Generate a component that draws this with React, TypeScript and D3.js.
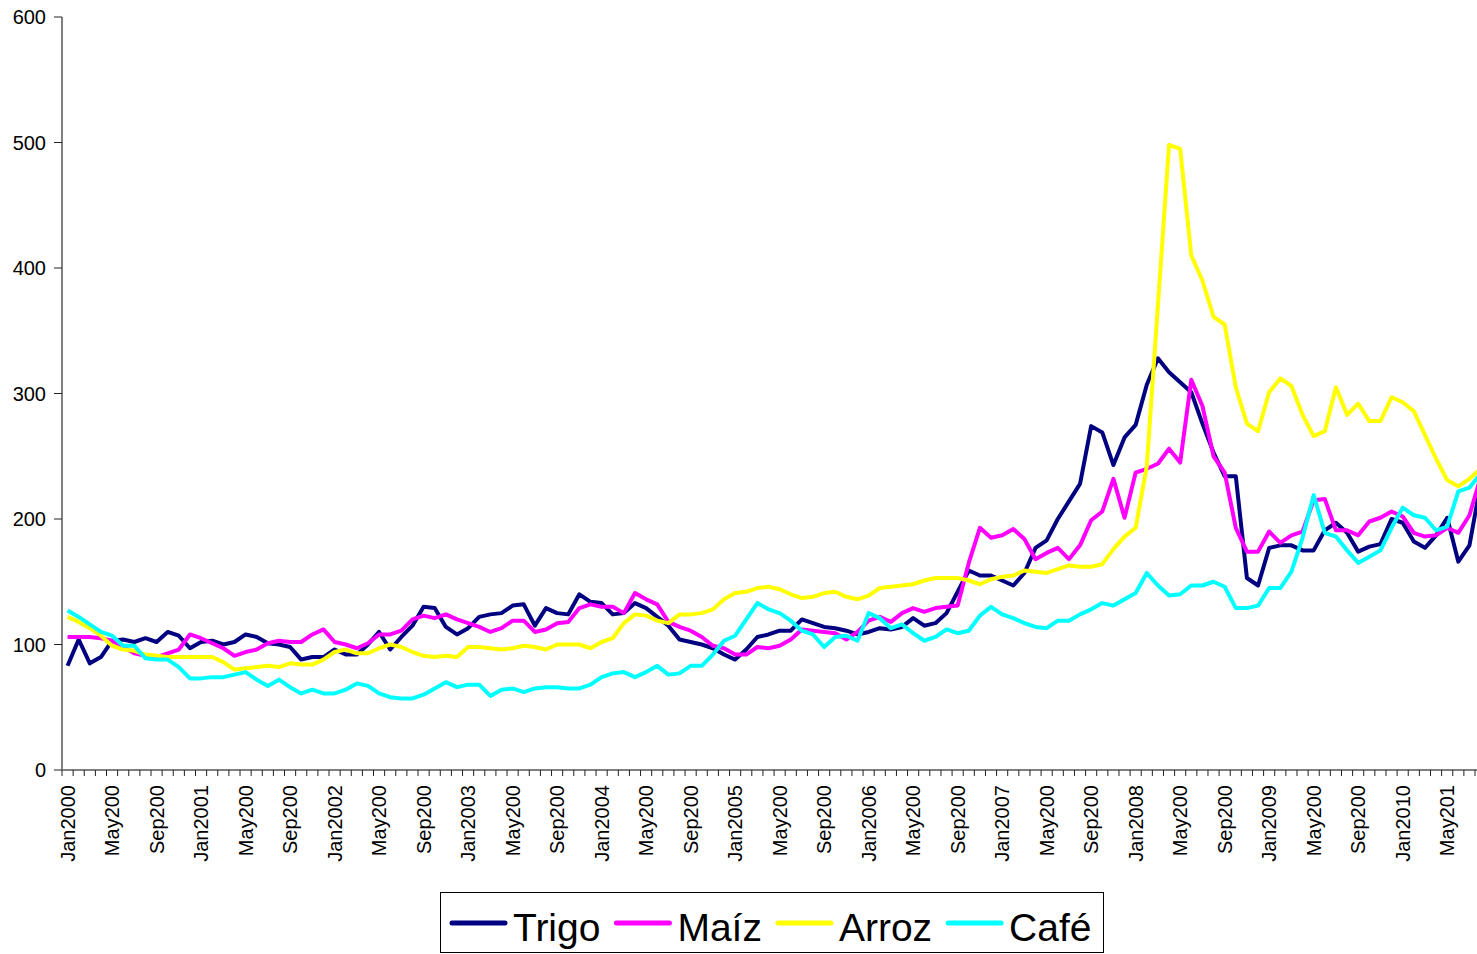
import React from "react";
import * as d3 from "d3";

const seriesNames = ["Trigo", "Maíz", "Arroz", "Café"];
const seriesColors = ["#000080", "#FF00FF", "#FFFF00", "#00FFFF"];

// Monthly index values, Jan 2000 .. Aug 2010
const trigo = [
  83, 104, 85, 90, 103, 104, 102, 105, 102, 110, 107, 97, 102, 103, 100, 102,
  108, 106, 101, 100, 98, 88, 90, 90, 96, 92, 92, 100, 110, 96, 106, 115,
  130, 129, 114, 108, 113, 122, 124, 125, 131, 132, 115, 129, 125, 124, 140, 134,
  133, 124, 125, 133, 129, 122, 115, 104, 102, 100, 97, 92, 88, 96, 106, 108,
  111, 111, 120, 117, 114, 113, 111, 108, 110, 113, 112, 114, 121, 115, 117, 125,
  142, 159, 155, 155, 151, 147, 157, 177, 183, 200, 214, 228, 274, 269, 243, 265,
  275, 307, 328, 317, 309, 301, 276, 253, 234, 234, 153, 147, 177, 179, 179, 175,
  175, 191, 197, 189, 174, 178, 180, 200, 197, 182, 177, 187, 201, 166, 179, 228,
];
const maiz = [
  106, 106, 106, 105, 103, 98, 93, 91, 90, 93, 96, 108, 105, 101, 97, 91,
  94, 96, 101, 103, 102, 102, 108, 112, 102, 100, 97, 101, 108, 108, 111, 120,
  123, 121, 124, 120, 117, 114, 110, 113, 119, 119, 110, 112, 117, 118, 129, 132,
  130, 130, 125, 141, 136, 132, 118, 114, 111, 106, 99, 97, 92, 92, 98, 97,
  99, 104, 112, 111, 110, 109, 104, 110, 119, 122, 118, 125, 129, 126, 129, 130,
  131, 165, 193, 185, 187, 192, 184, 168, 173, 177, 168, 179, 199, 206, 232, 201,
  237, 240, 244, 256, 245, 311, 290, 250, 237, 193, 174, 174, 190, 181, 187, 190,
  215, 216, 191, 191, 187, 198, 201, 206, 202, 189, 186, 187, 193, 189, 203, 233,
];
const arroz = [
  122, 118, 113, 107, 99, 96, 95, 92, 91, 90, 90, 90, 90, 90, 86, 80,
  81, 82, 83, 82, 85, 84, 84, 88, 94, 96, 93, 93, 97, 100, 98, 94,
  91, 90, 91, 90, 98, 98, 97, 96, 97, 99, 98, 96, 100, 100, 100, 97,
  102, 105, 117, 124, 123, 119, 117, 124, 124, 125, 128, 136, 141, 142, 145, 146,
  144, 140, 137, 138, 141, 142, 138, 136, 139, 145, 146, 147, 148, 151, 153, 153,
  153, 151, 148, 152, 154, 155, 159, 158, 157, 160, 163, 162, 162, 164, 176, 186,
  193, 242, 370, 498, 495, 410, 390, 361, 355, 305, 276, 270, 301, 312, 306, 283,
  266, 270, 305, 283, 292, 278, 278, 297, 293, 286, 267, 248, 231, 226, 232, 240,
];
const cafe = [
  127, 122, 116, 110, 107, 99, 99, 89, 88, 88, 82, 73, 73, 74, 74, 76,
  78, 72, 67, 72, 66, 61, 64, 61, 61, 64, 69, 67, 61, 58, 57, 57,
  60, 65, 70, 66, 68, 68, 59, 64, 65, 62, 65, 66, 66, 65, 65, 68,
  74, 77, 78, 74, 78, 83, 76, 77, 83, 83, 92, 103, 107, 120, 133, 128,
  125, 119, 111, 108, 98, 106, 107, 103, 125, 121, 113, 116, 109, 103, 106, 112,
  109, 111, 123, 130, 124, 121, 117, 114, 113, 119, 119, 124, 128, 133, 131, 136,
  141, 157, 147, 139, 140, 147, 147, 150, 146, 129, 129, 131, 145, 145, 158, 185,
  219, 189, 186, 175, 165, 170, 175, 193, 209, 203, 201, 191, 194, 222, 225, 236,
];

const tickLabels = [
  "Jan2000", "May200", "Sep200", "Jan2001", "May200", "Sep200",
  "Jan2002", "May200", "Sep200", "Jan2003", "May200", "Sep200",
  "Jan2004", "May200", "Sep200", "Jan2005", "May200", "Sep200",
  "Jan2006", "May200", "Sep200", "Jan2007", "May200", "Sep200",
  "Jan2008", "May200", "Sep200", "Jan2009", "May200", "Sep200",
  "Jan2010", "May201",
];
const yTicks = [0, 100, 200, 300, 400, 500, 600];

const FONT = "'Liberation Sans', Arial, Helvetica, sans-serif";

export default function App() {
  const W = 1477;
  const H = 954;
  const left = 62;
  const step = 11.126;
  const n = trigo.length;
  const x = d3
    .scaleBand<number>()
    .domain(d3.range(n))
    .range([left, left + n * step])
    .paddingInner(0)
    .paddingOuter(0);
  const y = d3.scaleLinear().domain([0, 600]).range([770, 17]);
  const cx = (i: number) => (x(i) as number) + x.bandwidth() / 2;
  const line = d3
    .line<number>()
    .x((_, i) => cx(i))
    .y((v) => y(v));

  const allSeries = [trigo, maiz, arroz, cafe];

  // legend layout
  const measure = (t: string) => {
    const c = document.createElement("canvas").getContext("2d");
    if (!c) return t.length * 20;
    c.font = `39px ${FONT}`;
    return c.measureText(t).width;
  };
  let cursor = 452;
  const legendItems = seriesNames.map((name, k) => {
    const item = { name, color: seriesColors[k], x0: cursor, tx: cursor + 61 };
    cursor = item.tx + measure(name) + 16;
    return item;
  });

  const axisColor = "#808080";
  const boundaries = d3.range(n + 1).map((i) => left + i * step);

  return (
    <svg
      width={W}
      height={H}
      style={{ position: "absolute", left: 0, top: 0, background: "#fff" }}
    >
      <rect x={0} y={0} width={W} height={H} fill="#fff" />
      {/* y axis */}
      <line x1={left} x2={left} y1={y(600)} y2={y(0)} stroke={axisColor} strokeWidth={2} />
      {yTicks.map((t) => (
        <g key={t}>
          <line x1={left - 8} x2={left} y1={y(t)} y2={y(t)} stroke="#222" strokeWidth={1} />
          <text
            x={46}
            y={y(t)}
            dy="0.35em"
            textAnchor="end"
            fontFamily={FONT}
            fontSize={20}
            fill="#000"
          >
            {t}
          </text>
        </g>
      ))}
      {/* x axis */}
      <line x1={left} x2={W} y1={y(0)} y2={y(0)} stroke={axisColor} strokeWidth={2} />
      {boundaries.map((bx, i) => (
        <line key={i} x1={bx} x2={bx} y1={y(0)} y2={y(0) + 6} stroke="#222" strokeWidth={1} />
      ))}
      {tickLabels.map((lab, k) => (
        <text
          key={k}
          transform={`translate(${cx(k * 4)},785) rotate(-90)`}
          dy="0.35em"
          textAnchor="end"
          fontFamily={FONT}
          fontSize={20}
          fill="#000"
        >
          {lab}
        </text>
      ))}
      {/* series */}
      <g>
        {allSeries.map((s, k) => (
          <path
            key={k}
            d={line(s) || ""}
            fill="none"
            stroke={seriesColors[k]}
            strokeWidth={4}
            strokeLinejoin="round"
          />
        ))}
      </g>
      {/* legend */}
      <rect x={440.5} y={892.5} width={663} height={60} fill="#fff" stroke="#000" strokeWidth={1} />
      {legendItems.map((it) => (
        <g key={it.name}>
          <line
            x1={it.x0}
            x2={it.x0 + 53}
            y1={923}
            y2={923}
            stroke={it.color}
            strokeWidth={5}
            strokeLinecap="round"
          />
          <text x={it.tx} y={940.5} fontFamily={FONT} fontSize={39} fill="#000">
            {it.name}
          </text>
        </g>
      ))}
    </svg>
  );
}
